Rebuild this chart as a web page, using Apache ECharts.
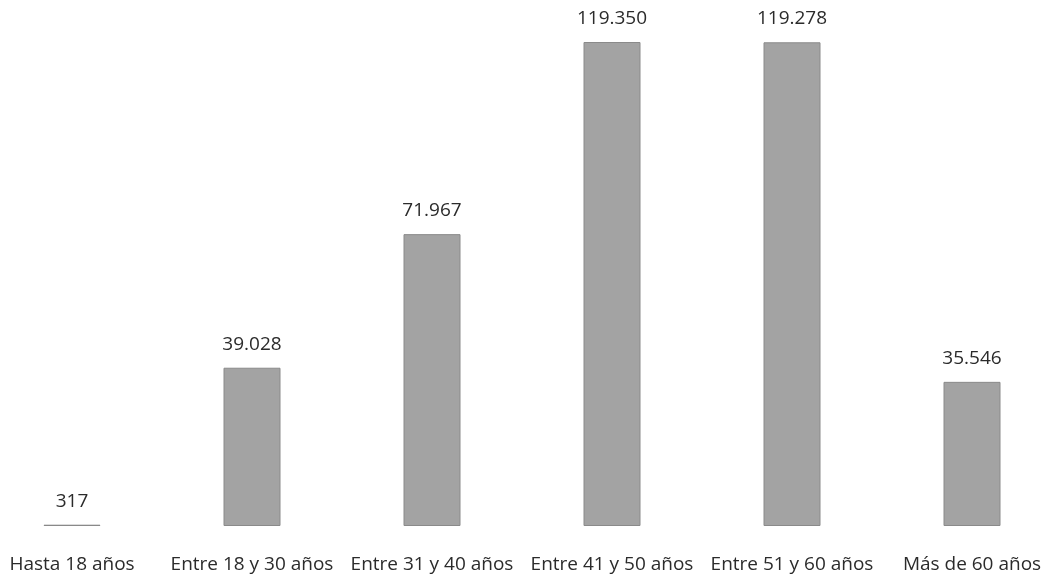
<!DOCTYPE html>
<html>
<head>
<meta charset="utf-8">
<script src="https://cdn.jsdelivr.net/npm/echarts@6/dist/echarts.min.js"></script>
<style>
html, body { margin: 0; padding: 0; background: #fff; }
#main { width: 1051px; height: 579px; }
</style>
</head>
<body>
<div id="main"></div>
<script>
var categories = ['Hasta 18 años', 'Entre 18 y 30 años', 'Entre 31 y 40 años', 'Entre 41 y 50 años', 'Entre 51 y 60 años', 'Más de 60 años'];
var values = [317, 39028, 71967, 119350, 119278, 35546];

// numero con punto de miles
function fmt(v) {
	return String(v).replace(/\B(?=(\d{3})+(?!\d))/g, '.');
}

var myChart = echarts.init(document.getElementById('main'));
var option = {
	animation: false,
	grid: {
		left: -18,
		width: 1080,
		top: 42,
		bottom: 53,
		outerBoundsMode: 'none',
		containLabel: false
	},
	xAxis: {
		type: 'category',
		data: categories,
		axisLine: { show: false },
		axisTick: { show: false },
		axisLabel: {
			interval: 0,
			margin: 29,
			fontFamily: 'Open Sans',
			fontSize: 19,
			color: '#2b2b2b'
		}
	},
	yAxis: {
		type: 'value',
		min: 0,
		max: 119350,
		show: false,
		splitLine: { show: false }
	},
	series: [
		{
			type: 'bar',
			data: values,
			barWidth: 57,
			itemStyle: {
				color: '#a3a3a3',
				borderColor: '#8a8a8a',
				borderWidth: 1
			},
			label: {
				show: true,
				position: 'top',
				distance: 14,
				fontFamily: 'Open Sans',
				fontSize: 19,
				color: '#2b2b2b',
				formatter: function (p) { return fmt(p.value); }
			}
		}
	]
};
myChart.setOption(option);
</script>
</body>
</html>
